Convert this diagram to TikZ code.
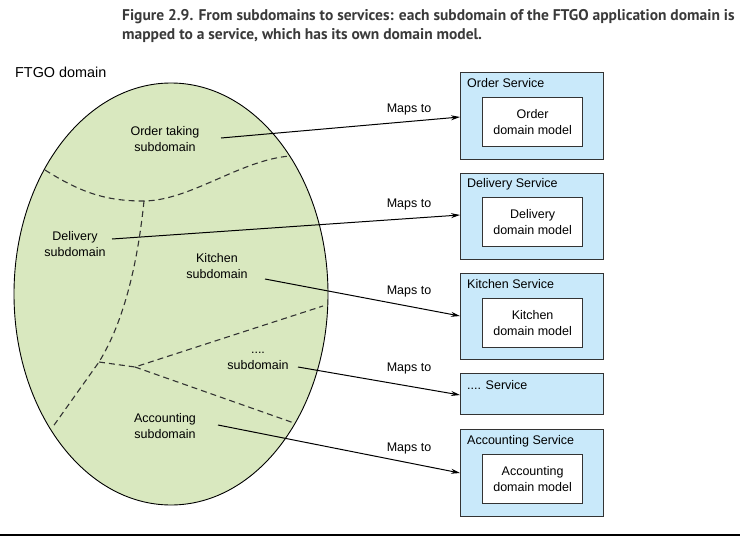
\documentclass[tikz,border=0pt]{standalone}
\usepackage{fontspec}
\setmainfont{Liberation Sans}
\newfontfamily\capfont{PT Sans}
\usetikzlibrary{arrows.meta,shapes.geometric}
\definecolor{domfill}{RGB}{217,232,191}
\definecolor{svcfill}{RGB}{201,233,250}
\definecolor{edge}{RGB}{51,51,51}
\definecolor{captext}{RGB}{58,58,58}
\tikzset{
  lbl/.style={font=\fontsize{12.5}{16}\selectfont, text=black, align=center, inner sep=0pt},
  svcbox/.style={draw=edge, line width=1.2pt, fill=svcfill, anchor=north west, inner sep=0pt, minimum width=143pt},
  modelbox/.style={draw=edge, line width=1.2pt, fill=white, anchor=north west, inner sep=0pt, minimum width=100pt, minimum height=49pt, align=center, font=\fontsize{12.5}{16}\selectfont},
  svctitle/.style={font=\fontsize{12.5}{16}\selectfont, anchor=west, inner sep=0pt},
  mapsto/.style={draw=black, line width=1pt, -{Stealth[length=9pt,width=5pt]}},
  divider/.style={draw=edge, line width=1.1pt, dash pattern=on 6pt off 4pt},
  captxt/.style={font=\capfont\bfseries\fontsize{15.5}{19}\selectfont, text=captext, anchor=west, inner sep=0pt}
}
\begin{document}
\begin{tikzpicture}[x=1pt,y=-1pt]
\useasboundingbox (0,0) rectangle (740,536);
% caption
\node[captxt] (cap1) at (122,17) {Figure 2.9. From subdomains to services: each subdomain of the FTGO application domain is};
\node[captxt] (cap2) at (122,36) {mapped to a service, which has its own domain model.};
% domain
\node[lbl, anchor=west, font=\fontsize{14.4}{17}\selectfont] (ftgo) at (15,72) {FTGO domain};
\node[draw=black, line width=0.9pt, fill=domfill, ellipse, minimum width=314pt, minimum height=422pt, inner sep=0pt] (dom) at (171,294) {};
% dividers
\draw[divider] (45,170) .. controls (80,192) and (105,201) .. (143,201) .. controls (190,201) and (240,160) .. (290,156);
\draw[divider] (144,201) .. controls (138,260) and (125,320) .. (99,362) -- (52,428);
\draw[divider] (99,362) -- (135,367) -- (323,306);
\draw[divider] (135,367) -- (294,423);
% subdomain labels
\node[lbl] (sorder) at (165,139) {Order taking\\subdomain};
\node[lbl] (sdel) at (75,244) {Delivery\\subdomain};
\node[lbl] (skit) at (217,266) {Kitchen\\subdomain};
\node[lbl] (sdots) at (258,361) {....\\subdomain};
\node[lbl] (sacc) at (165,426) {Accounting\\subdomain};
% services
\node[svcbox, minimum height=87pt] (vorder) at (460,72) {};
\node[svctitle] (torder) at (467,83) {Order Service};
\node[modelbox] (morder) at (482,97) {Order\\domain model};
\node[svcbox, minimum height=86pt] (vdel) at (460,173) {};
\node[svctitle] (tdel) at (467,184) {Delivery Service};
\node[modelbox] (mdel) at (482,197) {Delivery\\domain model};
\node[svcbox, minimum height=86pt] (vkit) at (460,273) {};
\node[svctitle] (tkit) at (467,284) {Kitchen Service};
\node[modelbox] (mkit) at (482,298) {Kitchen\\domain model};
\node[svcbox, minimum height=41pt] (vdots) at (460,373) {};
\node[svctitle] (tdots) at (467,385) {.... Service};
\node[svcbox, minimum height=87pt] (vacc) at (460,429) {};
\node[svctitle] (tacc) at (467,441) {Accounting Service};
\node[modelbox] (macc) at (482,454) {Accounting\\domain model};
% arrow anchors
\coordinate (a1) at (221,138); \coordinate (b1) at (460,117);
\coordinate (a2) at (112,239); \coordinate (b2) at (460,215);
\coordinate (a3) at (265,279); \coordinate (b3) at (460,316);
\coordinate (a4) at (298,367); \coordinate (b4) at (460,395);
\coordinate (a5) at (218,425); \coordinate (b5) at (460,473);
\draw[mapsto] (a1) -- (b1);
\draw[mapsto] (a2) -- (b2);
\draw[mapsto] (a3) -- (b3);
\draw[mapsto] (a4) -- (b4);
\draw[mapsto] (a5) -- (b5);
\node[lbl] (m1) at (409,109) {Maps to};
\node[lbl] (m2) at (409,204) {Maps to};
\node[lbl] (m3) at (409,291) {Maps to};
\node[lbl] (m4) at (409,368) {Maps to};
\node[lbl] (m5) at (409,448) {Maps to};
% bottom rule
\coordinate (r1) at (0,535); \coordinate (r2) at (740,535);
\draw[line width=1.5pt, black] (r1) -- (r2);
\end{tikzpicture}
\end{document}
